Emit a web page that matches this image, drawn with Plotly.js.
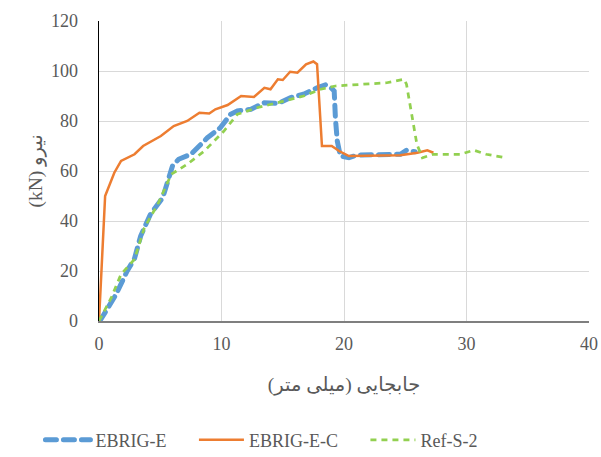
<!DOCTYPE html>
<html>
<head>
<meta charset="utf-8">
<script src="https://cdn.plot.ly/plotly-3.0.1.min.js"></script>
<style>
html,body{margin:0;padding:0;background:#fff;}
#chart{width:601px;height:457px;}
.scatterlayer .trace:first-child .js-line{stroke-linecap:round;}
.legend .traces:first-child .js-line{stroke-linecap:round;}
</style>
</head>
<body>
<div id="chart"></div>
<script>
// EBRIG-E
const ebrigE_x = [0,0.16,1.4,2.3,2.9,3.4,4.2,5.2,6.0,6.5,7.5,8.85,9.9,10.75,11.3,12.4,13.5,14.6,15.6,16.7,17.8,18.5,19.0,19.2,19.3,19.45,19.7,20.4,21.1,24.6,25.1,25.8];
const ebrigE_y = [0,0.7,10.7,20,25,34,42.7,49.3,62,64.7,66.7,73.3,77.3,82.7,84,84.7,87.3,87,89.3,90.7,93.3,94.5,93,92,81,72,66,65.3,66.4,66.7,68.3,67.7];
// EBRIG-E-C
const ebrigEC_x = [0,0.15,0.3,0.5,1.25,1.8,2.9,3.6,5.05,6.1,7.2,8.2,9.0,9.5,10.5,11.6,12.65,13.5,14.0,14.6,15.0,15.6,16.2,16.9,17.5,17.8,18.2,18.7,19.0,19.6,20.4,24.6,26.0,26.8,27.3];
const ebrigEC_y = [0,15,28,50,59.3,64,66.7,70,74,78,80,83.3,83,84.7,86.4,90,89.6,93.3,92.7,96.7,96.4,99.7,99.3,102.7,103.8,102.7,70,70,70,68,66,66.3,67.3,68.3,67.3];
// Ref-S-2
const refS2_x = [0,1.0,1.8,2.9,3.7,4.8,5.9,7.2,8.6,10.2,11.3,12.9,14.55,16.7,18.1,19.3,23.5,24.9,25.1,25.95,26.4,27.3,29.5,30.6,31.6,33.2];
const refS2_y = [0,9.3,18.7,24.7,37.3,46.7,58.7,62.7,68,76,82.7,85.3,87.3,90,92.7,94,95.3,96.7,94.7,70.7,65.3,66.7,66.7,68.3,66.7,65.3];

const seriesNames = ['EBRIG-E','EBRIG-E-C','Ref-S-2'];
const xTicks = [0,10,20,30,40];
const yTicks = [0,20,40,60,80,100,120];
const xTitle = 'جابجایی (میلی متر)\u200F';
const yTitle = '(kN) نیرو';

const pad = '\u00A0\u00A0\u00A0\u00A0\u00A0';
const tickFont = {family:'"Liberation Serif", "Times New Roman", serif', size:18, color:'#595959'};
const titleFont = {family:'"Liberation Serif", "DejaVu Sans", serif', size:19.5, color:'#595959'};

const traces = [
  {x: ebrigE_x, y: ebrigE_y, name: seriesNames[0] + pad, mode:'lines', type:'scatter',
   line:{color:'#5B9BD5', width:5, dash:'11px,7px'}},
  {x: ebrigEC_x, y: ebrigEC_y, name: seriesNames[1] + pad, mode:'lines', type:'scatter',
   line:{color:'#ED7D31', width:2.5}},
  {x: refS2_x, y: refS2_y, name: seriesNames[2], mode:'lines', type:'scatter',
   line:{color:'#92D050', width:2.75, dash:'6px,5px'}}
];

const layout = {
  width:601, height:457,
  margin:{l:99, r:12, t:21, b:136, autoexpand:false},
  paper_bgcolor:'#fff', plot_bgcolor:'#fff',
  showlegend:true,
  legend:{orientation:'h', x:0.435, xanchor:'center', xref:'container',
          y:0.037, yanchor:'middle', yref:'container',
          font:tickFont, itemwidth:45, traceorder:'normal'},
  xaxis:{range:[0,40], tickvals:xTicks, ticktext:xTicks.map(String),
         showgrid:true, gridcolor:'#d9d9d9', gridwidth:1, zeroline:false,
         showline:true, linecolor:'#7f7f7f', linewidth:1.5, ticks:'',
         tickfont:tickFont, ticklabelstandoff:6,
         title:{text:xTitle, font:titleFont, standoff:24}},
  yaxis:{range:[0,120], tickvals:yTicks, ticktext:yTicks.map(String),
         showgrid:true, gridcolor:'#d9d9d9', gridwidth:1, zeroline:false,
         showline:true, linecolor:'#000', linewidth:1.5, ticks:'',
         tickfont:tickFont, ticklabelstandoff:16,
         title:{text:yTitle, font:titleFont, standoff:3}}
};

Plotly.newPlot('chart', traces, layout, {staticPlot:true, displayModeBar:false});
</script>
</body>
</html>
